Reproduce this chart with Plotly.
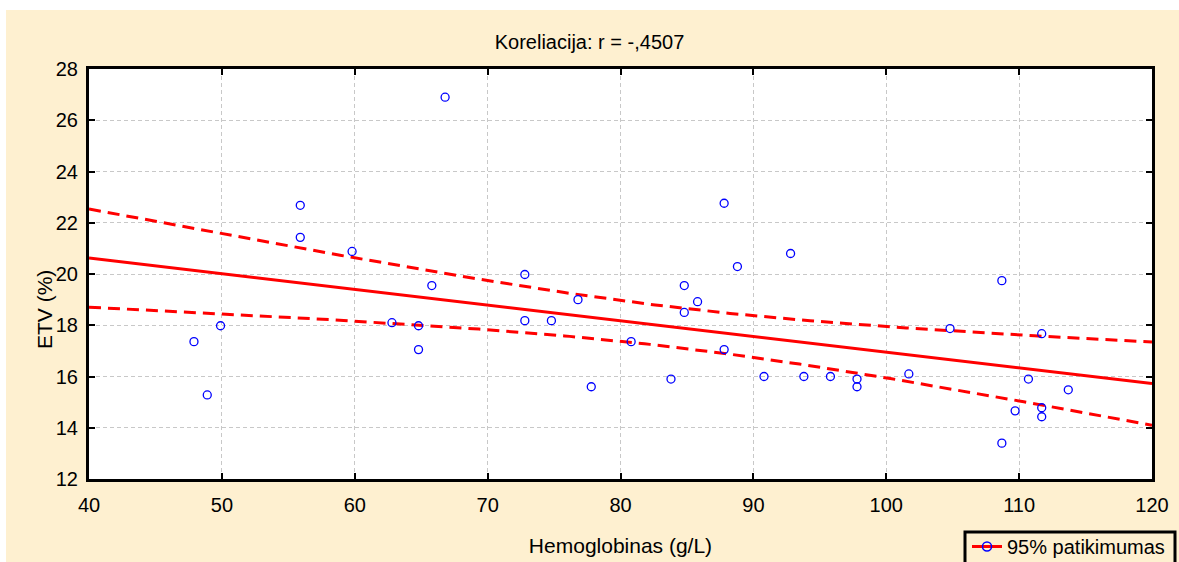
import numpy as np
import plotly.graph_objects as go

# ---- data ----
hemoglobinas = [47.9, 48.9, 49.9, 55.9, 55.9, 59.8, 62.8, 64.8, 64.8, 65.8,
                66.8, 72.8, 72.8, 74.8, 76.8, 77.8, 80.8, 83.8, 84.8, 84.8,
                85.8, 87.8, 87.8, 88.8, 90.8, 92.8, 93.8, 95.8, 97.8, 97.8,
                101.7, 104.8, 108.7, 108.7, 109.7, 110.7, 111.7, 111.7, 111.7, 113.7]
etv = [17.36, 15.28, 17.98, 22.68, 21.43, 20.88, 18.10, 17.98, 17.05, 19.55,
       26.90, 19.98, 18.18, 18.18, 19.00, 15.60, 17.36, 15.90, 19.55, 18.50,
       18.92, 22.76, 17.05, 20.29, 16.00, 20.80, 16.00, 16.00, 15.90, 15.60,
       16.10, 17.87, 19.74, 13.40, 14.66, 15.90, 17.67, 14.78, 14.43, 15.48]
x_ticks = [40, 50, 60, 70, 80, 90, 100, 110, 120]
y_ticks = [12, 14, 16, 18, 20, 22, 24, 26, 28]
title_text = "Koreliacija: r = -,4507"
x_title = "Hemoglobinas (g/L)"
y_title = "ETV (%)"
legend_text = "95% patikimumas"
t_crit = 2.0244  # Student t, 0.975, df = 38

# ---- regression with 95% confidence band ----
x = np.array(hemoglobinas)
y = np.array(etv)
n = len(x)
b1, b0 = np.polyfit(x, y, 1)
resid = y - (b0 + b1 * x)
s = np.sqrt(np.sum(resid ** 2) / (n - 2))
sxx = np.sum((x - x.mean()) ** 2)
xf = np.linspace(x_ticks[0], x_ticks[-1], 200)
yf = b0 + b1 * xf
half = t_crit * s * np.sqrt(1.0 / n + (xf - x.mean()) ** 2 / sxx)

RED = "#FF0000"
BLUE = "#0000FF"
BEIGE = "#FEF0D0"
FONT = "Liberation Sans, Arial, sans-serif"

fig = go.Figure()
fig.add_trace(go.Scatter(x=xf, y=yf + half, mode="lines", showlegend=False,
                         line=dict(color=RED, width=3, dash="12px,7px")))
fig.add_trace(go.Scatter(x=xf, y=yf - half, mode="lines", showlegend=False,
                         line=dict(color=RED, width=3, dash="12px,7px")))
fig.add_trace(go.Scatter(x=xf, y=yf, mode="lines", showlegend=False,
                         line=dict(color=RED, width=3)))
fig.add_trace(go.Scatter(x=hemoglobinas, y=etv, mode="markers", showlegend=False,
                         marker=dict(symbol="circle-open", size=8, color=BLUE,
                                     line=dict(width=1.3, color=BLUE))))
fig.add_trace(go.Scatter(x=[None], y=[None], mode="lines+markers", name=legend_text,
                         line=dict(color=RED, width=3),
                         marker=dict(symbol="circle-open", size=9, color=BLUE,
                                     line=dict(width=1.5, color=BLUE))))

W, H = 1179, 562
L, R, T, B = 89, 27, 69, 83
pw, ph = W - L - R, H - T - B


def px_x(p):
    return (p - L) / pw


def px_y(p):
    return (H - B - p) / ph


axis_common = dict(
    showline=True, linecolor="black", linewidth=3, mirror="allticks",
    ticks="inside", ticklen=6, tickwidth=2, tickcolor="black",
    showgrid=True, gridcolor="#C8C8C8", gridwidth=1, griddash="4px,3px",
    zeroline=False, tickfont=dict(family=FONT, size=20, color="black"),
)

fig.update_layout(
    width=W, height=H,
    margin=dict(l=L, r=R, t=T, b=B, pad=0, autoexpand=False),
    paper_bgcolor=BEIGE, plot_bgcolor="white",
    font=dict(family=FONT, size=20, color="black"),
    title=dict(text=title_text, x=0.5, xref="container", xanchor="center",
               y=1 - 42 / H, yref="container", yanchor="middle",
               font=dict(family=FONT, size=20, color="black")),
    xaxis=dict(range=[x_ticks[0], x_ticks[-1]], tickvals=x_ticks,
               ticktext=[str(v) for v in x_ticks], ticklabelstandoff=6,
               title=dict(text=x_title, standoff=24,
                          font=dict(family=FONT, size=21)), **axis_common),
    yaxis=dict(range=[y_ticks[0], y_ticks[-1]], tickvals=y_ticks,
               ticktext=[str(v) for v in y_ticks], ticklabelstandoff=4,
               **axis_common),
    legend=dict(x=px_x(967), y=px_y(527), xanchor="left", yanchor="top",
                bgcolor="rgba(0,0,0,0)", borderwidth=0,
                font=dict(family=FONT, size=20, color="black"),
                itemwidth=30),
    showlegend=True,
    annotations=[
        dict(text=y_title, textangle=-90, showarrow=False,
             xref="paper", yref="paper", x=px_x(44), y=px_y(310),
             xanchor="center", yanchor="middle",
             font=dict(family=FONT, size=21, color="black")),
    ],
    shapes=[
        dict(type="rect", xref="paper", yref="paper", layer="below",
             x0=px_x(0), x1=px_x(W), y0=px_y(0), y1=px_y(10),
             fillcolor="white", line=dict(width=0)),
        dict(type="rect", xref="paper", yref="paper", layer="below",
             x0=px_x(0), x1=px_x(6), y0=px_y(H), y1=px_y(0),
             fillcolor="white", line=dict(width=0)),
        # legend frame (continues past the bottom edge as in the reference)
        dict(type="rect", xref="paper", yref="paper", layer="below",
             x0=px_x(965), x1=px_x(1175), y0=px_y(575), y1=px_y(532),
             fillcolor=BEIGE, line=dict(color="black", width=3)),
    ],
)

fig.write_html("out.html",
               config={"displayModeBar": False},
               post_script="document.body.style.margin='0px';"
                           "document.body.style.overflow='hidden';")
